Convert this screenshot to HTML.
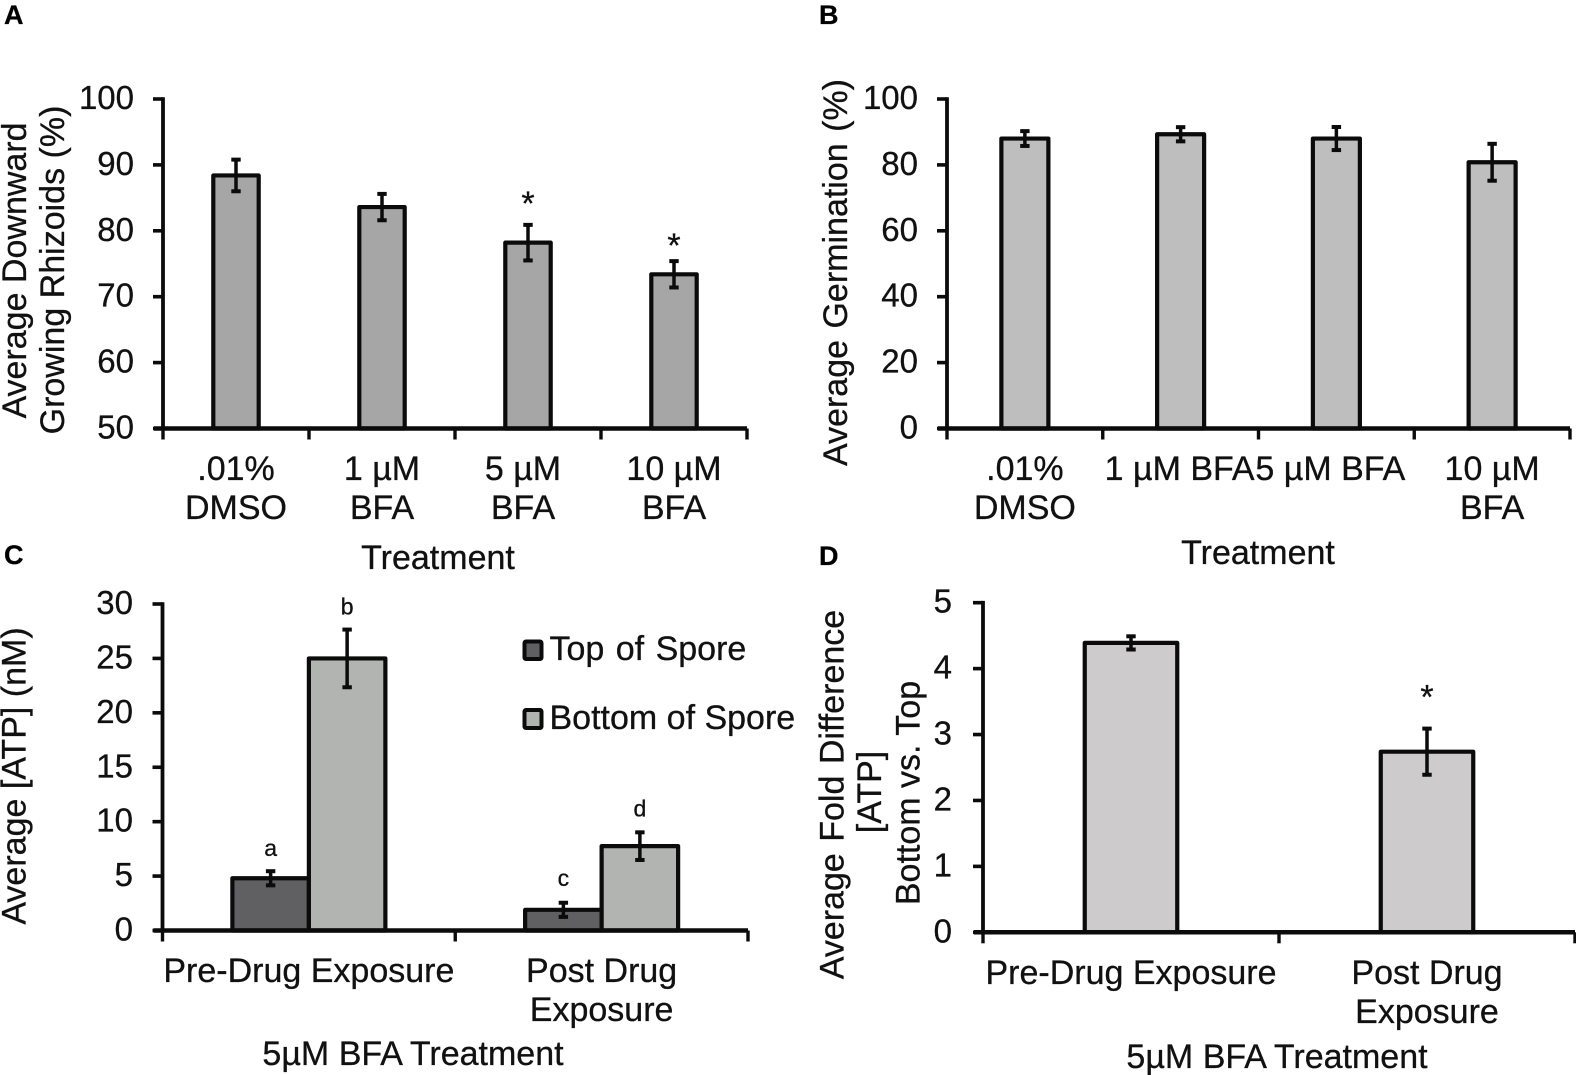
<!DOCTYPE html>
<html lang="en">
<head>
<meta charset="utf-8">
<title>BFA treatment charts</title>
<style>
html,body{margin:0;padding:0;background:#fff;}
body{width:1576px;height:1075px;overflow:hidden;}
svg{display:block;filter:blur(0.35px);}
text{font-family:"Liberation Sans",Arial,sans-serif;fill:#111;stroke:#111;stroke-width:0.3px;}
.t{font-size:34px;}
.tick{font-size:33px;}
.pl{font-size:27px;font-weight:bold;fill:#000;}
</style>
</head>
<body>
<svg id="figure" xmlns="http://www.w3.org/2000/svg" width="1576" height="1075" viewBox="0 0 1576 1075">
  <rect x="0" y="0" width="1576" height="1075" fill="#ffffff"/>

  <text class="pl" x="4" y="24">A</text>
  <text class="pl" x="819" y="24">B</text>
  <text class="pl" x="4" y="564">C</text>
  <text class="pl" x="819" y="565">D</text>

  <g id="panel-a">
    <text class="t" text-anchor="middle" transform="translate(26,270.5) rotate(-90)">Average Downward</text>
    <text class="t" text-anchor="middle" transform="translate(64,270) rotate(-90)">Growing Rhizoids (%)</text>
    <text class="t" text-anchor="middle" x="438" y="569">Treatment</text>
  </g>

  <g id="panel-b">
    <text class="t" text-anchor="middle" word-spacing="2" transform="translate(847,272.5) rotate(-90)">Average Germination (%)</text>
    <text class="t" text-anchor="middle" x="1258" y="564">Treatment</text>
  </g>

  <g id="panel-c">
    <text class="t" text-anchor="middle" transform="translate(25.5,776) rotate(-90)">Average [ATP] (nM)</text>
    <text class="t" text-anchor="middle" x="413" y="1065">5µM BFA Treatment</text>
    <g>
      <rect x="524.5" y="641.5" width="17" height="17.5" rx="1.5" fill="#606062" stroke="#0b0b0b" stroke-width="4"/>
      <text class="t" word-spacing="2" x="549.5" y="660">Top of Spore</text>
      <rect x="524.5" y="710" width="17" height="18" rx="1.5" fill="#b2b4b2" stroke="#0b0b0b" stroke-width="4"/>
      <text class="t" x="549.5" y="729">Bottom of Spore</text>
    </g>
  </g>

  <g id="panel-d">
    <text class="t" text-anchor="middle" word-spacing="2" transform="translate(843.5,794.5) rotate(-90)">Average Fold Difference</text>
    <text class="t" text-anchor="middle" transform="translate(881,792) rotate(-90)">[ATP]</text>
    <text class="t" text-anchor="middle" transform="translate(919.5,793) rotate(-90)">Bottom vs. Top</text>
    <text class="t" text-anchor="middle" x="1277" y="1068">5µM BFA Treatment</text>
  </g>
</svg>

<script>
// Panel A data
const categoriesA = [[".01%", "DMSO"], ["1 µM", "BFA"], ["5 µM", "BFA"], ["10 µM", "BFA"]];
const valuesA = [88.4, 83.6, 78.2, 73.4];
const errorsA = [2.4, 2.0, 2.7, 2.0];
const yTicksA = [50, 60, 70, 80, 90, 100];

// Panel B data
const categoriesB = [[".01%", "DMSO"], ["1 µM BFA"], ["5 µM BFA"], ["10 µM", "BFA"]];
const valuesB = [88.0, 89.3, 88.0, 80.8];
const errorsB = [2.25, 2.15, 3.5, 5.6];
const yTicksB = [0, 20, 40, 60, 80, 100];

// Panel C data
const categoriesC = [["Pre-Drug Exposure"], ["Post Drug", "Exposure"]];
const valuesCTop = [4.8, 1.9];
const errorsCTop = [0.65, 0.65];
const valuesCBottom = [25.0, 7.75];
const errorsCBottom = [2.65, 1.27];
const yTicksC = [0, 5, 10, 15, 20, 25, 30];

// Panel D data
const categoriesD = [["Pre-Drug Exposure"], ["Post Drug", "Exposure"]];
const valuesD = [4.39, 2.74];
const errorsD = [0.1, 0.35];
const yTicksD = [0, 1, 2, 3, 4, 5];

const SVGNS = "http://www.w3.org/2000/svg";

function shape(tag, attrs) {
  const el = document.createElementNS(SVGNS, tag);
  for (const k in attrs) el.setAttribute(k, attrs[k]);
  return el;
}

function drawPanel(cfg) {
  const root = document.getElementById(cfg.id);
  const n = cfg.categories.length;
  const bandW = (cfg.right - cfg.left) / n;
  const yScale = v => cfg.bottom - (v - cfg.yMin) / (cfg.yMax - cfg.yMin) * (cfg.bottom - cfg.top);
  const band = i => cfg.left + (i + 0.5) * bandW;
  const ink = "#0b0b0b";

  // bars
  cfg.series.forEach((s, j) => {
    const off = (j - (cfg.series.length - 1) / 2) * cfg.barW;
    s.values.forEach((v, i) => {
      const cx = band(i) + off;
      const y = yScale(v);
      const bar = shape("rect", {x: cx - cfg.barW / 2, y: y, width: cfg.barW, height: cfg.bottom - y, fill: s.fill, stroke: ink, "stroke-width": 4.2, "stroke-linejoin": "round"});
      
      
      root.appendChild(bar);
    });
  });

  // axes
  const yAxis = shape("line", {x1: cfg.left, x2: cfg.left, y1: cfg.top - 1.8, y2: cfg.bottom, stroke: ink, "stroke-width": 3.8});
  
  
  root.appendChild(yAxis);

  const xAxis = shape("line", {x1: cfg.left - 9, x2: cfg.right, y1: cfg.bottom, y2: cfg.bottom, stroke: ink, "stroke-width": 4.5});
  
  
  root.appendChild(xAxis);

  // y ticks and labels
  cfg.yTicks.forEach(t => {
    const y = yScale(t);
    const tick = shape("line", {x1: cfg.left - 10, x2: cfg.left, y1: y, y2: y, stroke: ink, "stroke-width": 3.6});
    
    
    root.appendChild(tick);

    const label = shape("text", {x: cfg.tickEnd, y: y + 10, "text-anchor": "end", class: "tick"});
    label.textContent = t;
    
    
    root.appendChild(label);
  });

  // x ticks
  for (let i = 0; i <= n; i++) {
    const x = cfg.left + i * bandW;
    const tick = shape("line", {x1: x, x2: x, y1: cfg.bottom, y2: cfg.bottom + 11, stroke: ink, "stroke-width": 3.4});
    
    
    root.appendChild(tick);
  }

  // category labels
  cfg.categories.forEach((lines, i) => {
    lines.forEach((line, k) => {
      const label = shape("text", {x: band(i) + ((cfg.shift && cfg.shift[i]) || 0), y: cfg.labelBase + k * 39, "text-anchor": "middle", class: "t"});
      label.textContent = line;
      
      
      root.appendChild(label);
    });
  });

  // error bars
  cfg.series.forEach((s, j) => {
    const off = (j - (cfg.series.length - 1) / 2) * cfg.barW;
    s.values.forEach((v, i) => {
      const cx = band(i) + off;
      const hi = yScale(v + s.errors[i]);
      const lo = yScale(v - s.errors[i]);
      const stem = shape("line", {x1: cx, x2: cx, y1: hi, y2: lo, stroke: ink, "stroke-width": 3.5});
      
      
      root.appendChild(stem);

      const capTop = shape("line", {x1: cx - 4.7, x2: cx + 4.7, y1: hi, y2: hi, stroke: ink, "stroke-width": 4});
      
      
      root.appendChild(capTop);

      const capBottom = shape("line", {x1: cx - 4.7, x2: cx + 4.7, y1: lo, y2: lo, stroke: ink, "stroke-width": 4});
      
      
      root.appendChild(capBottom);
    });
  });

  // significance marks, placed above their error bars
  (cfg.marks || []).forEach(m => {
    const s = cfg.series[m.s || 0];
    const off = ((m.s || 0) - (cfg.series.length - 1) / 2) * cfg.barW;
    const mark = shape("text", {x: band(m.i) + off, y: yScale(s.values[m.i] + s.errors[m.i]) - m.gap, "text-anchor": "middle", "font-size": m.size});
    mark.textContent = m.text;
    
    
    root.appendChild(mark);
  });
}

drawPanel({
  id: "panel-a", left: 163, right: 747, top: 99, bottom: 428.5, yMin: 50, yMax: 100,
  yTicks: yTicksA, tickEnd: 134, categories: categoriesA, labelBase: 480, barW: 45.4,
  shift: {2: -5},
  series: [{values: valuesA, errors: errorsA, fill: "#a6a6a6"}],
  marks: [{i: 2, text: "*", gap: 10, size: 34}, {i: 3, text: "*", gap: 4, size: 34}]
});
drawPanel({
  id: "panel-b", left: 947, right: 1570, top: 99, bottom: 428.5, yMin: 0, yMax: 100,
  yTicks: yTicksB, tickEnd: 918, categories: categoriesB, labelBase: 480, barW: 47,
  shift: {1: -1, 2: -6},
  series: [{values: valuesB, errors: errorsB, fill: "#bebebe"}]
});
drawPanel({
  id: "panel-c", left: 162.5, right: 748, top: 604, bottom: 930.5, yMin: 0, yMax: 30,
  yTicks: yTicksC, tickEnd: 133, categories: categoriesC, labelBase: 982, barW: 76.5,
  series: [
    {values: valuesCTop, errors: errorsCTop, fill: "#606062"},
    {values: valuesCBottom, errors: errorsCBottom, fill: "#b2b4b2"}
  ],
  marks: [
    {i: 0, s: 0, text: "a", gap: 15, size: 23},
    {i: 0, s: 1, text: "b", gap: 15, size: 23},
    {i: 1, s: 0, text: "c", gap: 16.5, size: 23},
    {i: 1, s: 1, text: "d", gap: 16, size: 23}
  ]
});
drawPanel({
  id: "panel-d", left: 983, right: 1575, top: 602.7, bottom: 932.3, yMin: 0, yMax: 5,
  yTicks: yTicksD, tickEnd: 952, categories: categoriesD, labelBase: 984, barW: 92.5,
  series: [{values: valuesD, errors: errorsD, fill: "#cdcbcc"}],
  marks: [{i: 1, text: "*", gap: 20, size: 34}]
});
</script>
</body>
</html>
